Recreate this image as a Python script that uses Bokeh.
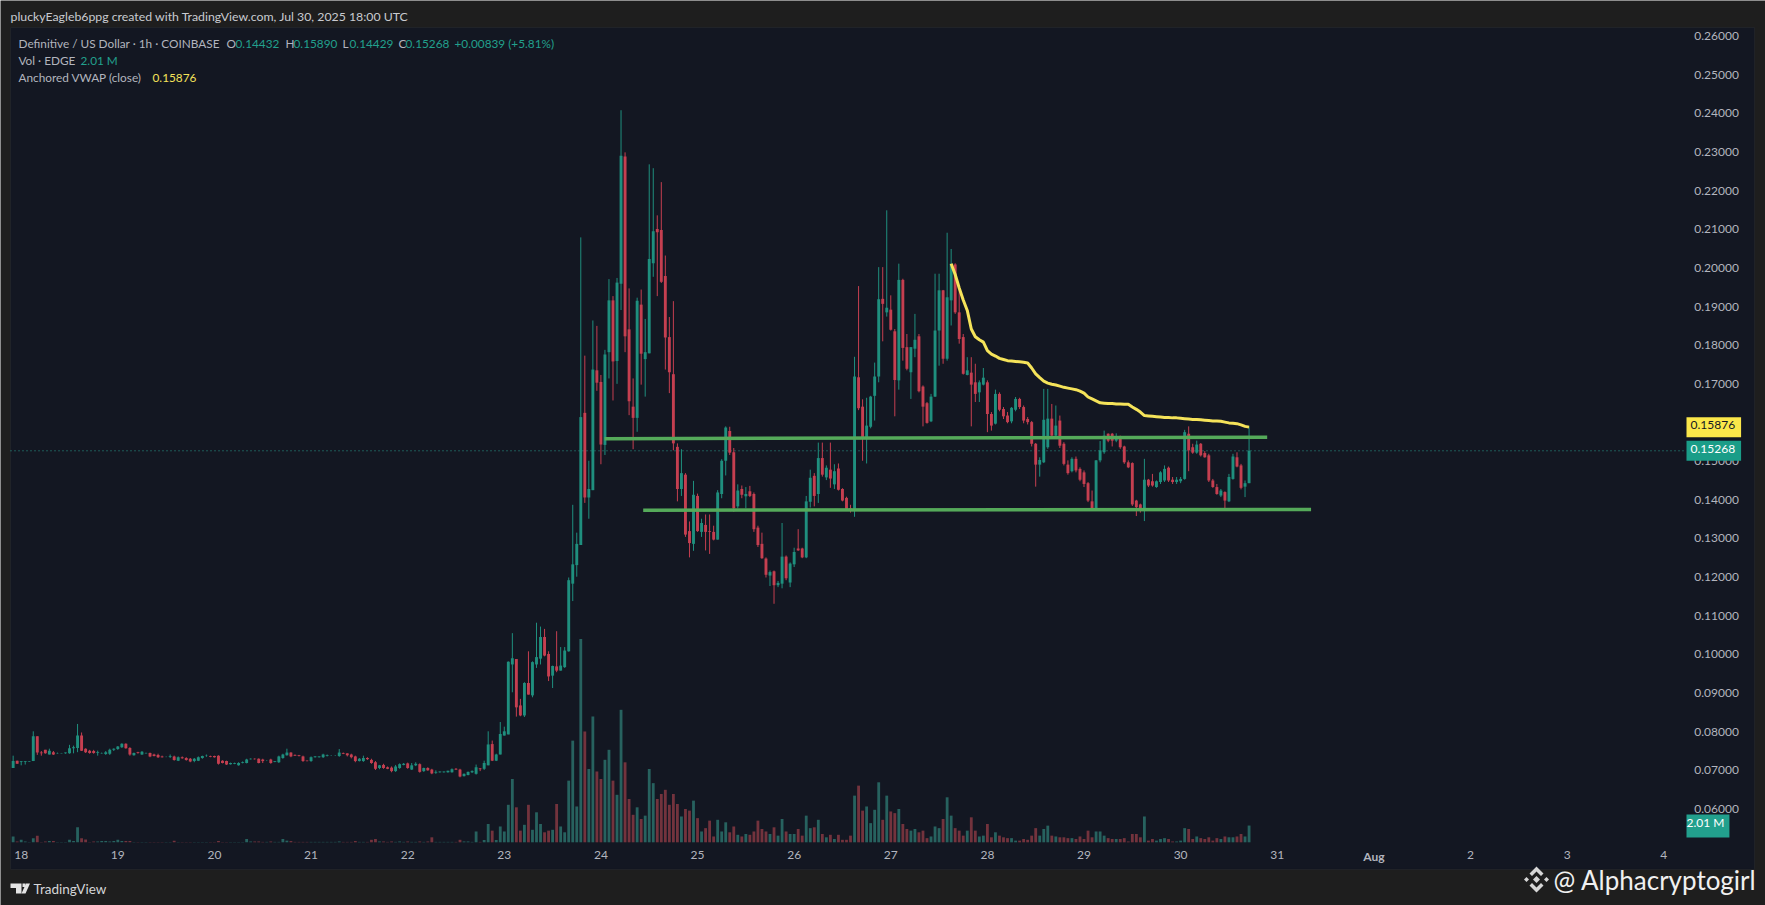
from bokeh.embed import file_html
from bokeh.resources import INLINE
from bokeh.plotting import figure
from bokeh.models import (Range1d, LinearAxis, FixedTicker, NumeralTickFormatter, Label,
                          PolyAnnotation, BoxAnnotation, ColumnDataSource)
import numpy as np

# prices in ten-thousandths of a US dollar, one per hourly bar
OPEN = [706,725,722,722,723,724,788,746,753,741,
747,744,744,744,744,757,758,790,756,751,
750,745,744,742,743,753,755,760,769,758,
739,747,741,744,745,741,740,736,735,735,
736,725,734,732,730,724,725,732,737,737,
737,738,725,724,716,717,713,719,719,729,
730,730,728,725,728,722,721,732,739,746,
740,739,736,725,724,734,734,734,737,738,
738,737,745,744,741,736,724,724,732,727,
721,706,714,708,707,698,706,714,718,702,
713,716,698,706,702,694,695,695,695,695,
704,702,685,688,695,691,705,704,713,768,
725,741,790,793,974,988,868,842,926,894,
974,989,1045,1001,945,969,958,967,1008,1183,
1231,1283,1625,1406,1425,1735,1705,1542,1782,1916,
1759,1959,2288,1841,1641,1612,1905,1764,1779,2012,
2101,2098,1979,1821,1725,1537,1428,1465,1319,1286,
1410,1317,1335,1319,1317,1297,1415,1501,1578,1523,
1383,1428,1409,1422,1415,1328,1286,1248,1204,1215,
1179,1183,1253,1186,1233,1274,1274,1251,1395,1462,
1415,1508,1458,1478,1440,1481,1428,1405,1378,1374,
1717,1641,1560,1589,1669,1719,1920,1885,1892,1836,
1709,1969,1795,1730,1791,1823,1693,1650,1603,1667,
1838,1942,1765,1916,2009,1885,1821,1723,1729,1704,
1678,1698,1704,1622,1597,1674,1635,1618,1603,1633,
1661,1640,1609,1601,1545,1491,1497,1536,1610,1566,
1605,1545,1491,1474,1506,1480,1471,1443,1396,1374,
1502,1523,1571,1571,1553,1564,1538,1497,1495,1398,
1388,1371,1452,1448,1433,1446,1450,1483,1452,1446,
1448,1454,1571,1536,1522,1545,1521,1515,1450,1433,
1411,1420,1396,1454,1510,1489,1434,1443]
HIGH = [738,725,724,724,724,801,788,750,753,756,
750,746,745,746,766,764,820,798,757,753,
753,751,746,750,756,757,763,770,770,760,
746,748,750,746,746,743,743,738,736,741,
738,736,736,734,732,732,736,738,741,738,
738,739,726,725,720,720,721,723,730,731,
731,731,730,726,730,724,738,743,756,747,
741,740,738,726,736,737,736,743,741,739,
739,755,746,744,743,738,732,738,734,730,
724,714,717,710,710,714,718,719,720,719,
721,718,707,708,704,700,697,697,699,705,
706,704,692,697,700,715,706,725,801,777,
743,825,813,982,1055,988,885,928,1008,982,
1082,1072,1066,1008,971,1060,1019,1019,1199,1387,
1315,2079,1773,1501,1864,1850,1723,1788,1971,1927,
1974,2408,2299,1947,1714,1923,1944,1868,2268,2258,
2136,2222,2032,1873,1914,1546,1531,1469,1344,1449,
1416,1351,1362,1362,1333,1425,1505,1590,1589,1534,
1440,1437,1433,1436,1419,1333,1315,1251,1217,1217,
1190,1340,1256,1238,1276,1324,1276,1410,1478,1469,
1548,1548,1489,1548,1492,1494,1430,1408,1387,1770,
1953,1660,1664,1669,1755,2002,2002,2149,1929,1842,
2011,1972,1829,1795,1881,1829,1696,1653,1674,1985,
1985,1943,2091,2049,2012,1950,1829,1769,1769,1752,
1709,1741,1709,1627,1685,1678,1640,1627,1640,1666,
1664,1644,1614,1604,1547,1510,1687,1687,1648,1644,
1618,1549,1502,1510,1512,1484,1476,1446,1424,1503,
1552,1579,1572,1573,1572,1566,1540,1502,1497,1400,
1390,1506,1454,1467,1450,1474,1489,1486,1459,1459,
1459,1581,1590,1545,1553,1547,1526,1519,1454,1441,
1428,1422,1467,1519,1523,1493,1450,1589]
LOW = [706,717,713,715,722,724,740,738,743,741,
740,743,744,743,743,744,747,750,745,743,
743,738,743,740,740,750,753,758,756,738,
738,743,740,743,734,736,732,733,734,732,
725,724,730,725,721,721,724,730,735,734,
733,715,718,714,715,716,712,718,718,728,
728,718,719,724,717,721,719,730,738,734,
737,736,722,723,722,733,733,732,736,737,
737,735,742,736,731,721,723,722,727,717,
701,703,704,703,695,696,704,713,704,701,
711,694,696,699,690,691,694,694,694,694,
701,682,684,687,693,689,698,701,713,724,
724,741,790,793,902,839,840,838,896,889,
965,974,995,931,913,954,958,965,1007,1138,
1201,1283,1392,1351,1425,1682,1492,1516,1714,1657,
1700,1891,1782,1619,1531,1576,1698,1667,1779,1977,
1927,1961,1737,1676,1528,1396,1410,1304,1251,1268,
1317,1304,1269,1260,1295,1297,1404,1463,1516,1369,
1378,1404,1378,1407,1317,1278,1247,1199,1177,1131,
1174,1171,1192,1174,1226,1268,1249,1249,1380,1383,
1392,1460,1451,1431,1428,1424,1396,1371,1367,1356,
1632,1501,1494,1585,1605,1704,1810,1874,1838,1616,
1685,1760,1735,1661,1769,1678,1590,1597,1601,1666,
1747,1752,1760,1851,1881,1804,1724,1722,1590,1653,
1653,1696,1575,1579,1595,1629,1609,1598,1598,1629,
1635,1598,1595,1538,1434,1460,1495,1532,1560,1562,
1534,1489,1465,1471,1471,1448,1433,1394,1371,1371,
1497,1519,1549,1538,1549,1532,1493,1482,1384,1358,
1367,1345,1433,1434,1431,1441,1446,1446,1441,1441,
1443,1452,1474,1519,1519,1512,1509,1446,1431,1413,
1407,1377,1394,1452,1484,1427,1407,1443]
CLOSE = [724,717,724,724,724,788,746,744,744,751,
741,745,745,746,757,760,790,751,747,745,
745,747,745,747,753,756,762,769,757,741,
745,745,748,745,736,737,734,734,735,737,
727,734,731,727,723,730,734,737,738,735,
734,717,719,715,719,719,719,721,728,730,
729,719,724,725,719,724,736,741,746,736,
738,737,724,724,734,736,736,741,739,738,
738,746,743,739,734,724,730,732,729,719,
704,713,706,704,698,710,716,717,706,713,
717,696,706,700,692,696,697,697,699,703,
702,684,691,696,698,708,703,719,767,725,
741,794,801,981,990,863,842,926,896,980,
993,1045,997,943,970,958,971,1010,1192,1233,
1286,1614,1406,1428,1737,1703,1543,1776,1916,1758,
1962,2290,1823,1655,1612,1915,1778,1782,2023,2095,
2092,1964,1820,1730,1546,1428,1469,1310,1288,1413,
1319,1340,1317,1317,1297,1419,1501,1587,1522,1378,
1424,1413,1415,1410,1324,1283,1249,1206,1213,1179,
1185,1253,1197,1235,1265,1269,1251,1396,1457,1410,
1508,1465,1483,1455,1474,1426,1398,1374,1374,1719,
1637,1560,1592,1667,1719,1919,1907,1897,1840,1710,
1969,1793,1739,1795,1814,1681,1641,1599,1667,1838,
1942,1765,1924,2011,1885,1816,1726,1735,1698,1674,
1704,1716,1622,1592,1674,1633,1616,1601,1638,1661,
1640,1605,1601,1545,1491,1503,1607,1610,1566,1592,
1540,1493,1469,1506,1476,1452,1441,1398,1377,1502,
1528,1566,1553,1553,1564,1536,1497,1484,1388,1381,
1371,1452,1437,1437,1448,1471,1480,1450,1446,1452,
1454,1575,1528,1522,1543,1515,1510,1450,1433,1415,
1424,1398,1459,1512,1486,1431,1443,1527]
# volume in millions, one per bar
VOLUME = [.7,.1,.3,.1,.05,.5,.8,.05,.1,.15,
.15,.05,.05,.05,.3,.15,1.8,.5,.35,.05,
.1,.1,.15,.15,.1,.15,.3,.15,.15,.15,
.05,.05,.05,.05,.05,.05,.05,.05,.05,.05,
.2,.05,.05,.05,.05,.05,.05,.05,.05,.05,
.05,.15,.05,.05,.05,.05,.05,.05,.4,.1,
.1,.1,.05,.05,.1,.05,.05,.4,.2,.15,
.05,.05,.05,.05,.05,.05,.05,.05,.05,.05,
.05,.1,.05,.05,.05,.15,.05,.05,.05,.3,
.4,.1,.1,.05,.1,.05,.1,.05,.1,.05,
.05,.1,.05,.1,.6,.05,.05,.05,.05,.05,
.05,.3,.1,.1,.05,1.3,.05,
.28,2.2,1.4,.28,1.9,1.3,4.5,7.6,4.2,1.4,2.1,4.5,1.5,3.6,2.2,1.2,1.4,1.5,4.6,1.9,1.2,
7.4,12.2,4.3,24.4,13.3,8.8,15.1,8.5,7.6,9.9,11.1,7.4,5.7,15.9,9.6,5.2,3.3,4.2,2.8,3.2,
8.8,7.1,5.2,5.8,6.3,4.5,5.8,4.6,3.1,4.0,3.8,5.0,2.9,1.3,1.7,2.6,.7,2.7,1.3,2.4,
1.2,1.9,.9,.7,1.0,.9,1.3,2.6,1.6,1.3,1.0,1.8,.8,2.8,1.3,1.0,1.0,1.6,.8,3.2,
1.7,1.8,2.7,1.0,.6,.9,.4,.9,.3,.3,.8,5.6,6.8,3.8,4.3,2.3,3.9,7.2,
2.7,5.6,3.7,3.5,4.0,2.2,1.6,1.4,1.6,1.2,1.4,.5,.7,1.9,1.7,2.8,5.4,3.2,1.7,1.4,
.8,1.4,3.0,1.4,.7,.8,2.2,.6,1.2,.8,.6,.5,.5,.2,.2,.4,.3,.8,1.7,.8,
1.6,2.0,.8,.7,.6,.6,.5,.5,.4,.7,.4,1.4,.6,1.3,1.3,.8,.5,.4,.4,.4,
.5,.1,1.0,1.0,.6,3.1,.2,.4,.2,.4,.5,.4,.1,.1,.2,1.7,1.6,.4,.7,.5,
.4,.6,.2,.5,.4,.7,.6,.6,.7,1.0,.7,2.01]
# anchored VWAP, ten-thousandths of a dollar, for the last bars
VWAP = [2011,1983,1948,1917,1890,1842,1822,1814,1808,1786,1777,1772,1766,1763,1760,1759,1758,1757,1756,1754,
1741,1726,1716,1707,1702,1699,1697,1694,1691,1689,1687,1685,1681,1676,1666,1661,1656,1651,1650,1649,
1649,1648,1648,1647,1647,1640,1634,1627,1618,1617,1616,1615,1614,1613,1613,1612,1612,1611,1610,1609,
1608,1608,1607,1606,1605,1604,1604,1603,1601,1599,1598,1597,1594,1590,1588]
DAY_HOURS = [0,24,48,72,96,120,144,168,192,216,240,264,288,312,360,384,408]
DAY_LABELS = ["18","19","20","21","22","23","24","25","26","27","28","29","30","31","2","3","4"]
AUG_HOUR = 336
PRICE_TICKS = [.06,.07,.08,.09,.10,.11,.12,.13,.14,.15,.16,.17,.18,.19,.20,.21,.22,.23,.24,.25,.26]
RESIST = ([144.9, 309.5], [.1558, .1562])
SUPPORT = ([154.5, 320.4], [.1373, .1375])
LAST_PRICE = .15268
VWAP_LAST = .15876

BG, BAND = "#131722", "#1e1e1e"
UP, DOWN = "#1f8f7e", "#c53f50"
UPV, DOWNV = "#27625f", "#73333d"
TXT = "#b2b5be"
FONT = "Lato"

o, h, l, c = [np.array(a) / 1e4 for a in (OPEN, HIGH, LOW, CLOSE)]
x = np.arange(len(o)) - 2
up = c >= o
src = ColumnDataSource(dict(x=x, o=o, h=h, l=l, c=c, v=VOLUME,
    col=[UP if u else DOWN for u in up], vcol=[UPV if u else DOWNV for u in up]))

p = figure(width=1765, height=905, output_backend="svg", toolbar_location=None,
           x_range=Range1d(-5.142, 433.28), y_range=Range1d(.03503, .26919),
           x_axis_location=None, y_axis_location=None,
           background_fill_color=BAND, border_fill_color=BAND,
           min_border_left=0, min_border_right=0, min_border_top=0, min_border_bottom=0,
           outline_line_color=None)
p.grid.visible = False
p.extra_y_ranges = {"vol": Range1d(-7.584, 101.02)}

p.add_layout(BoxAnnotation(left=-2.658, right=430.55, bottom=.04435, top=.2622, level="underlay",
                           fill_color=BG, fill_alpha=1, line_color="#34373d", line_width=1))

p.vbar(x="x", width=.7, bottom=0, top="v", fill_color="vcol", line_color=None, source=src, y_range_name="vol")
p.line([-2.658, 413.5], [LAST_PRICE, LAST_PRICE], color="#2a9d8f", line_width=1, line_dash=[1, 3])
p.segment(x0="x", x1="x", y0="l", y1="h", color="col", line_width=1, source=src)
p.vbar(x="x", width=.72, bottom="o", top="c", fill_color="col", line_color=None, source=src)
p.line(*RESIST, color="#55aa5a", line_width=3.5)
p.line(*SUPPORT, color="#55aa5a", line_width=3.5)
p.line(x[-len(VWAP):], np.array(VWAP) / 1e4, color="#f5e35a", line_width=3)

ya = LinearAxis(fixed_location=413.1, ticker=FixedTicker(ticks=PRICE_TICKS),
                formatter=NumeralTickFormatter(format="0.00000"),
                axis_line_color=None, major_tick_line_color=None, minor_tick_line_color=None,
                major_label_text_color=TXT, major_label_text_font=FONT,
                major_label_text_font_size="12px", major_label_standoff=4)
p.add_layout(ya, "right")
XLOC = .0511
xa = LinearAxis(fixed_location=XLOC, ticker=FixedTicker(ticks=DAY_HOURS),
                major_label_overrides=dict(zip(DAY_HOURS, DAY_LABELS)),
                axis_line_color=None, major_tick_line_color=None, minor_tick_line_color=None,
                major_label_text_color=TXT, major_label_text_font=FONT,
                major_label_text_font_size="12px", major_label_standoff=2)
p.add_layout(xa, "below")
xb = LinearAxis(fixed_location=XLOC + .00065, ticker=FixedTicker(ticks=[AUG_HOUR]),
                major_label_overrides={AUG_HOUR: "Aug"},
                axis_line_color=None, major_tick_line_color=None, minor_tick_line_color=None,
                major_label_text_color=TXT, major_label_text_font=FONT, major_label_text_font_style="bold",
                major_label_text_font_size="12px", major_label_standoff=2)
p.add_layout(xb, "below")

def text(s, rx, ry, col=TXT, size=11.8, **kw):
    p.add_layout(Label(x=rx, y=ry, x_units="canvas", y_units="canvas", text=s, text_color=col,
                       text_font=FONT, text_font_size=f"{size}px", text_baseline="middle", **kw))

T2 = "#22a08d"
text("pluckyEagleb6ppg created with TradingView.com, Jul 30, 2025 18:00 UTC", 10, 15.5, "#c9cbd0", 12.3)
text("Definitive / US Dollar · 1h · COINBASE", 18, 43)
text("O", 226, 43); text("0.14432", 235, 43, T2)
text("H", 285, 43); text("0.15890", 293, 43, T2)
text("L", 342, 43); text("0.14429", 349, 43, T2)
text("C", 398, 43); text("0.15268", 405, 43, T2)
text("+0.00839 (+5.81%)", 454, 43, T2)
text("Vol · EDGE", 18, 60); text("2.01 M", 80, 60, T2)
text("Anchored VWAP (close)", 18, 77); text("0.15876", 152, 77, "#f5e35a")
text("TradingView", 33, 888, "#d5d6d8", 13.5)
text("@ Alphacryptogirl", 1553, 879, "#f0f0f0", 26)

for val, fill, col in ((VWAP_LAST, "#fbe74a", "#131722"), (LAST_PRICE, "#1a9d88", "#ffffff")):
    p.add_layout(Label(x=1686, x_units="canvas", y=val, text=f"{val:.5f}", text_color=col,
                       text_font=FONT, text_font_size="12px", text_baseline="middle",
                       background_fill_color=fill, padding=(4, 6, 4, 8)))
text("2.01 M", 1686, 825.5, "#ffffff", 12, background_fill_color="#22a08d", padding=(0, 5, 0, 8))

def poly(pts, col):
    p.add_layout(PolyAnnotation(xs=[a for a, _ in pts], ys=[b for _, b in pts],
                                xs_units="canvas", ys_units="canvas",
                                fill_color=col, fill_alpha=1, line_color=None))

LOGO = "#e4e4e4"
poly([(10, 883), (21, 883), (21, 893), (15.5, 893), (15.5, 887.5), (10, 887.5)], LOGO)
poly([(22, 883), (25, 883), (25, 886.5), (22, 886.5)], LOGO)
poly([(25.5, 883), (29.5, 883), (25, 893), (21, 893)], LOGO)
B = "#d6d6d6"
poly([(1536, 875.5), (1539.5, 879), (1536, 882.5), (1532.5, 879)], B)
poly([(1526, 876.5), (1528.5, 879), (1526, 881.5), (1523.5, 879)], B)
poly([(1546, 876.5), (1548.5, 879), (1546, 881.5), (1543.5, 879)], B)
poly([(1529, 873), (1536, 866), (1543, 873), (1540.5, 875.5), (1536, 871), (1531.5, 875.5)], B)
poly([(1529, 885), (1536, 892), (1543, 885), (1540.5, 882.5), (1536, 887), (1531.5, 882.5)], B)

open("out.html", "w").write(file_html(p, INLINE))
